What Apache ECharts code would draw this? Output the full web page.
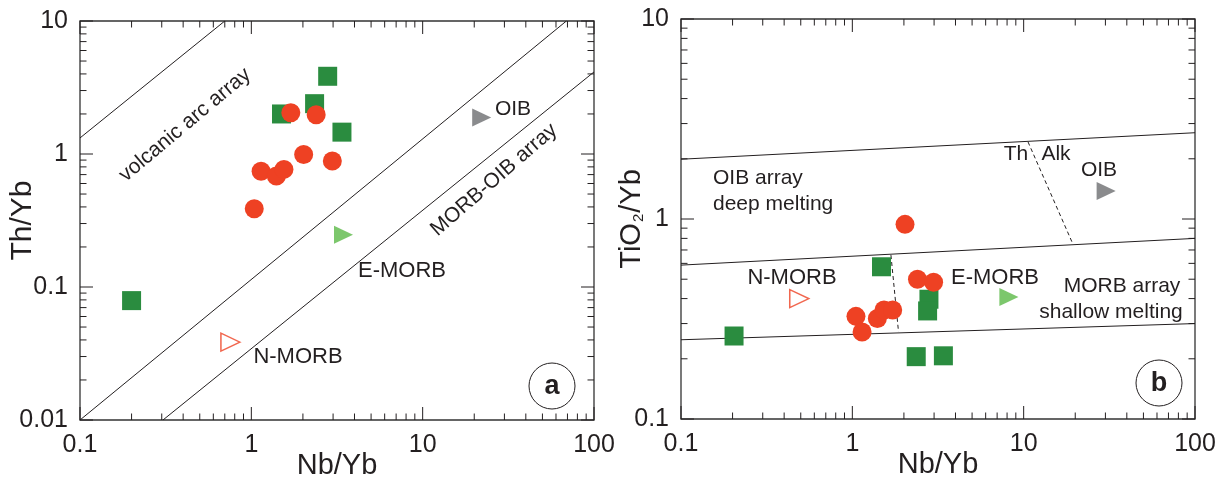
<!DOCTYPE html>
<html>
<head>
<meta charset="utf-8">
<script src="https://cdn.jsdelivr.net/npm/echarts@6/dist/echarts.min.js"></script>
<style>
html, body { margin: 0; padding: 0; background: #fff; }
#main { width: 1223px; height: 477px; }
</style>
</head>
<body>
<div id="main"></div>
<script>
// ---- panel a : Th/Yb vs Nb/Yb ----
var aSquareNb = [0.2, 1.5, 2.34, 2.79, 3.38];
var aSquareTh = [0.079, 2.0, 2.39, 3.84, 1.46];
var aCircleNb = [1.70, 2.39, 2.02, 2.97, 1.14, 1.40, 1.55, 1.04];
var aCircleTh = [2.04, 1.97, 0.99, 0.885, 0.743, 0.683, 0.766, 0.387];
// OIB, E-MORB, N-MORB
var aRefNb = [22.1, 3.45, 0.755];
var aRefTh = [1.88, 0.247, 0.0385];
var aVolcArc = [[0.1, 1.32], [0.70, 10]];
var aMorbUpper = [[0.1, 0.01], [69, 10]];
var aMorbLower = [[0.305, 0.01], [100, 4.14]];

// ---- panel b : TiO2/Yb vs Nb/Yb ----
var bSquareNb = [0.204, 1.48, 2.80, 2.75, 2.36, 3.40];
var bSquareTi = [0.26, 0.577, 0.397, 0.347, 0.205, 0.207];
var bCircleNb = [2.03, 2.40, 2.98, 1.05, 1.14, 1.40, 1.53, 1.72];
var bCircleTi = [0.94, 0.50, 0.483, 0.326, 0.272, 0.318, 0.351, 0.351];
var bRefNb = [30.3, 8.2, 0.49];
var bRefTi = [1.38, 0.407, 0.40];
var bOibUpper = [[0.1, 1.99], [100, 2.70]];
var bMorbUpper = [[0.1, 0.588], [100, 0.80]];
var bMorbLower = [[0.1, 0.249], [100, 0.30]];
var bThAlk = [[10.6, 2.43], [19.4, 0.748]];
var bSplit = [[1.68, 0.66], [1.86, 0.273]];

// axis ticks
var xDecades = [0.1, 1, 10, 100];
var aYDecades = [0.01, 0.1, 1, 10];
var bYDecades = [0.1, 1, 10];
var minorSteps = [2, 3, 4, 5, 6, 7, 8, 9];

var refColors = ['#6d6e70', '#5bb947', '#ffffff'];
var refBorders = ['#6d6e70', '#5bb947', '#ee4123'];
var ink = '#231f20';
var font = 'Liberation Sans, Arial, Helvetica, sans-serif';

var myChart = echarts.init(document.getElementById('main'));

function pairs(xs, ys) {
    var out = [];
    for (var i = 0; i < xs.length; i++) out.push([xs[i], ys[i]]);
    return out;
}
function refData(xs, ys) {
    var out = [];
    for (var i = 0; i < xs.length; i++) {
        out.push({
            value: [xs[i], ys[i]],
            itemStyle: { color: refColors[i], borderColor: refBorders[i], borderWidth: i == 2 ? 1.5 : 0 }
        });
    }
    return out;
}
// tick items: [x, y, axisFlag(0=x,1=y), major]
function tickData(xDec, yDec) {
    var out = [];
    var xMin = xDec[0], yMin = yDec[0];
    for (var i = 0; i < xDec.length; i++) {
        out.push([xDec[i], yMin, 0, 1]);
        if (i < xDec.length - 1) {
            for (var k = 0; k < minorSteps.length; k++) out.push([xDec[i] * minorSteps[k], yMin, 0, 0]);
        }
    }
    for (var j = 0; j < yDec.length; j++) {
        out.push([xMin, yDec[j], 1, 1]);
        if (j < yDec.length - 1) {
            for (var m = 0; m < minorSteps.length; m++) out.push([xMin, yDec[j] * minorSteps[m], 1, 0]);
        }
    }
    return out;
}
function renderTick(params, api) {
    var cs = params.coordSys;
    var p = api.coord([api.value(0), api.value(1)]);
    var len = api.value(3) ? 13 : 6.5;
    var st = { stroke: ink, lineWidth: 1 };
    if (api.value(2) == 0) {
        return { type: 'group', children: [
            { type: 'line', shape: { x1: p[0], y1: cs.y + cs.height, x2: p[0], y2: cs.y + cs.height - len }, style: st },
            { type: 'line', shape: { x1: p[0], y1: cs.y, x2: p[0], y2: cs.y + len }, style: st }
        ] };
    }
    return { type: 'group', children: [
        { type: 'line', shape: { x1: cs.x, y1: p[1], x2: cs.x + len, y2: p[1] }, style: st },
        { type: 'line', shape: { x1: cs.x + cs.width, y1: p[1], x2: cs.x + cs.width - len, y2: p[1] }, style: st }
    ] };
}
function lineSeries(pts, idx, dashed) {
    return {
        type: 'line', xAxisIndex: idx, yAxisIndex: idx, data: pts, symbol: 'none', silent: true,
        lineStyle: { color: ink, width: 1, type: dashed ? [4, 3] : 'solid' }, z: 2
    };
}
function logFmt(v) { return String(+Number(v).toPrecision(6)); }
function xAxisCfg(idx) {
    return {
        type: 'log', logBase: 10, min: 0.1, max: 100, gridIndex: idx,
        name: 'Nb/Yb', nameLocation: 'middle', nameGap: 31, nameMoveOverlap: false,
        nameTextStyle: { fontSize: 29, color: ink, fontFamily: font },
        axisLine: { show: false }, axisTick: { show: false }, splitLine: { show: false },
        axisLabel: { fontSize: 25, color: ink, fontFamily: font, margin: 13, formatter: logFmt }
    };
}

var Option = {
    animation: false,
    grid: [
        { left: 80, top: 21, width: 514, height: 399, outerBoundsMode: 'none', containLabel: false, show: true, borderColor: '#333', borderWidth: 1.3, backgroundColor: 'transparent' },
        { left: 681, top: 19, width: 514, height: 400, outerBoundsMode: 'none', containLabel: false, show: true, borderColor: '#333', borderWidth: 1.3, backgroundColor: 'transparent' }
    ],
    xAxis: [xAxisCfg(0), xAxisCfg(1)],
    yAxis: [{
        type: 'log', logBase: 10, min: 0.01, max: 10, gridIndex: 0,
        name: 'Th/Yb', nameLocation: 'middle', nameGap: 42, nameMoveOverlap: false,
        nameTextStyle: { fontSize: 30, color: ink, fontFamily: font },
        axisLine: { show: false }, axisTick: { show: false }, splitLine: { show: false },
        axisLabel: { fontSize: 25, color: ink, fontFamily: font, margin: 12, formatter: logFmt }
    }, {
        type: 'log', logBase: 10, min: 0.1, max: 10, gridIndex: 1,
        name: '{n|TiO}{s|2}{n|/Yb}', nameLocation: 'middle', nameGap: 35, nameMoveOverlap: false,
        nameTextStyle: { fontSize: 29, color: ink, fontFamily: font,
            rich: { n: { fontSize: 29, color: ink, fontFamily: font }, s: { fontSize: 15, color: ink, fontFamily: font, verticalAlign: 'bottom', padding: [0, 1, 0, 1] } } },
        axisLine: { show: false }, axisTick: { show: false }, splitLine: { show: false },
        axisLabel: { fontSize: 25, color: ink, fontFamily: font, margin: 12, formatter: logFmt }
    }],
    series: [
        { type: 'custom', xAxisIndex: 0, yAxisIndex: 0, data: tickData(xDecades, aYDecades), renderItem: renderTick, silent: true, clip: false, z: 5 },
        { type: 'custom', xAxisIndex: 1, yAxisIndex: 1, data: tickData(xDecades, bYDecades), renderItem: renderTick, silent: true, clip: false, z: 5 },
        lineSeries(aVolcArc, 0), lineSeries(aMorbUpper, 0), lineSeries(aMorbLower, 0),
        lineSeries(bOibUpper, 1), lineSeries(bMorbUpper, 1), lineSeries(bMorbLower, 1),
        lineSeries(bThAlk, 1, true), lineSeries(bSplit, 1, true),
        { type: 'scatter', xAxisIndex: 0, yAxisIndex: 0, data: pairs(aSquareNb, aSquareTh), symbol: 'rect', symbolSize: 19, itemStyle: { color: '#2a8c3f', opacity: 1 }, z: 3 },
        { type: 'scatter', xAxisIndex: 0, yAxisIndex: 0, data: pairs(aCircleNb, aCircleTh), symbol: 'circle', symbolSize: 19, itemStyle: { color: '#ee4123', opacity: 1 }, z: 4 },
        { type: 'scatter', xAxisIndex: 0, yAxisIndex: 0, data: refData(aRefNb, aRefTh), symbol: 'triangle', symbolRotate: -90, symbolSize: [18, 19], z: 4 },
        { type: 'scatter', xAxisIndex: 1, yAxisIndex: 1, data: pairs(bSquareNb, bSquareTi), symbol: 'rect', symbolSize: 19, itemStyle: { color: '#2a8c3f', opacity: 1 }, z: 3 },
        { type: 'scatter', xAxisIndex: 1, yAxisIndex: 1, data: pairs(bCircleNb, bCircleTi), symbol: 'circle', symbolSize: 19, itemStyle: { color: '#ee4123', opacity: 1 }, z: 4 },
        { type: 'scatter', xAxisIndex: 1, yAxisIndex: 1, data: refData(bRefNb, bRefTi), symbol: 'triangle', symbolRotate: -90, symbolSize: [18, 19], z: 4 }
    ],
    graphic: []
};

function txt(x, y, s, deg, size, weight) {
    return {
        type: 'text', x: x, y: y, rotation: (deg || 0) * Math.PI / 180, z: 10,
        style: { text: s, fill: ink, font: (weight || 'normal') + ' ' + (size || 21) + 'px ' + font, align: 'center', verticalAlign: 'middle' }
    };
}
function ring(cx, cy, letter) {
    return [
        { type: 'circle', shape: { cx: cx, cy: cy, r: 23 }, style: { fill: 'none', stroke: ink, lineWidth: 1 }, z: 10 },
        txt(cx, cy + 1, letter, 0, 27, 'bold')
    ];
}
Option.graphic = [
    txt(185, 125, 'volcanic arc array', 40),
    txt(494, 180, 'MORB-OIB array', 41),
    txt(513, 109, 'OIB'),
    txt(402, 271, 'E-MORB', 0, 22),
    txt(298, 357, 'N-MORB', 0, 22),
    txt(1016, 154, 'Th'),
    txt(1056, 154, 'Alk'),
    txt(1099, 170, 'OIB'),
    { type: 'text', x: 713, y: 178, z: 10, style: { text: 'OIB array', fill: ink, font: '21px ' + font, align: 'left', verticalAlign: 'middle' } },
    { type: 'text', x: 713, y: 204, z: 10, style: { text: 'deep melting', fill: ink, font: '21px ' + font, align: 'left', verticalAlign: 'middle' } },
    txt(792, 278, 'N-MORB', 0, 22),
    txt(995, 278, 'E-MORB', 0, 22),
    txt(1122, 286, 'MORB array'),
    txt(1111, 312, 'shallow melting')
].concat(ring(552, 386, 'a')).concat(ring(1159, 383, 'b'));

myChart.setOption(Option);
</script>
</body>
</html>
